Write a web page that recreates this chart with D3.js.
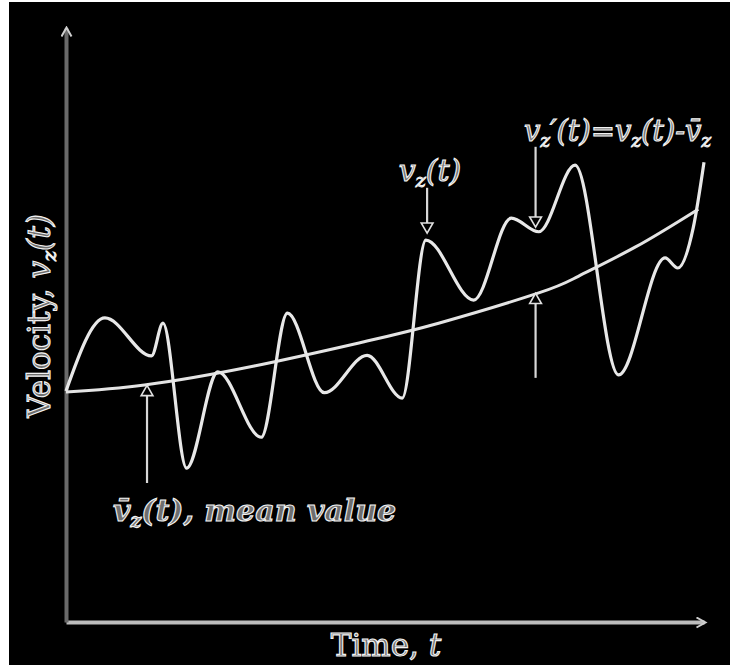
<!DOCTYPE html>
<html>
<head>
<meta charset="utf-8">
<script src="https://cdn.jsdelivr.net/npm/d3@7"></script>
<style>
  html, body { margin: 0; padding: 0; background: #fff; }
  svg { display: block; }
</style>
</head>
<body>
<svg id="chart" width="730" height="665"></svg>
<script>
// both axes are unitless, 0..100
const timeDomain = [0, 100];
const velocityDomain = [0, 100];

// instantaneous velocity v_z(t) - turning points
const vzTime  = [0, 6.1, 13.4, 15.2, 18.9, 23.8, 30.6, 34.7, 40.5, 47.2, 52.7, 56.4, 63.9, 69.8, 74.1, 79.8, 86.6, 93.9, 95.9, 98.3, 100];
const vzValue = [38.9, 51.2, 44.8, 50.3, 25.9, 42.1, 31.1, 52.0, 38.6, 44.9, 37.7, 64.3, 54.2, 68.0, 65.7, 76.9, 41.6, 61.3, 59.6, 66.3, 77.4];

// slowly rising mean value
const meanTime  = [0, 12.3, 29.5, 46.4, 58.4, 74.1, 80.3, 89.2, 99.1];
const meanValue = [38.7, 39.9, 43.1, 47.1, 50.3, 55.4, 58.2, 63.1, 69.5];

// pointer lines: time, tail value, tip value
const pointerTime = [12.7, 56.6, 73.6, 73.6];
const pointerFrom = [23.4, 73.1, 80.0, 41.1];
const pointerTo   = [39.7, 65.6, 66.6, 55.2];

const svg = d3.select('#chart');
const W = 730, H = 665;

// black picture, thin white strip left/top like the scan
svg.append('rect').attr('x', 9).attr('y', 2).attr('width', W - 9).attr('height', H - 2).attr('fill', '#000');

const x = d3.scaleLinear().domain(timeDomain).range([66, 704]);
const y = d3.scaleLinear().domain(velocityDomain).range([622, 28]);

const defs = svg.append('defs');
defs.append('marker').attr('id', 'axisArrow')
  .attr('viewBox', '0 0 12 12').attr('refX', 9).attr('refY', 6)
  .attr('markerWidth', 12).attr('markerHeight', 12)
  .attr('markerUnits', 'userSpaceOnUse').attr('orient', 'auto')
  .append('path').attr('d', 'M1,1L10,6L1,11')
  .attr('fill', 'none').attr('stroke', '#cfcfcf').attr('stroke-width', 2);

// axes (no ticks, just arrows)
const gx = svg.append('g').attr('transform', `translate(0,${y(0)})`)
  .call(d3.axisBottom(x).tickValues([]).tickSizeOuter(0));
gx.select('.domain').attr('stroke', '#bdbdbd').attr('stroke-width', 4).attr('marker-end', 'url(#axisArrow)');

const gy = svg.append('g').attr('transform', `translate(${x(0)},0)`)
  .call(d3.axisLeft(y).tickValues([]).tickSizeOuter(0));
gy.select('.domain').attr('stroke', '#6a6a6a').attr('stroke-width', 4).attr('marker-end', 'url(#axisArrow)');

// curves
const vzData = vzTime.map((t, i) => ({ t, v: vzValue[i] }));
const meanData = meanTime.map((t, i) => ({ t, v: meanValue[i] }));

const wiggle = d3.line().x(d => x(d.t)).y(d => y(d.v)).curve(d3.curveMonotoneX);
const smooth = d3.line().x(d => x(d.t)).y(d => y(d.v)).curve(d3.curveNatural);

svg.append('path').datum(meanData).attr('d', smooth)
  .attr('fill', 'none').attr('stroke', '#e4e4e4').attr('stroke-width', 3);
svg.append('path').datum(vzData).attr('d', wiggle)
  .attr('fill', 'none').attr('stroke', '#e8e8e8').attr('stroke-width', 3.2);

// pointer lines with hollow triangle heads
const pointers = pointerTime.map((t, i) => ({ t, from: pointerFrom[i], to: pointerTo[i] }));
const pg = svg.append('g');
pg.selectAll('line').data(pointers).join('line')
  .attr('x1', d => x(d.t)).attr('x2', d => x(d.t))
  .attr('y1', d => y(d.from))
  .attr('y2', d => y(d.to) + (d.to > d.from ? 8 : -8))
  .attr('stroke', '#d8d8d8').attr('stroke-width', 2.2);
pg.selectAll('path').data(pointers).join('path')
  .attr('d', d3.symbol(d3.symbolTriangle, 60))
  .attr('transform', d => {
    const up = d.to > d.from;
    return `translate(${x(d.t)},${y(d.to) + (up ? 6 : -6)}) rotate(${up ? 0 : 180})`;
  })
  .attr('fill', '#000').attr('stroke', '#e0e0e0').attr('stroke-width', 1.6);

// text
const font = '"DejaVu Serif", "Liberation Serif", serif';
function label(xp, yp, size, anchor) {
  return svg.append('text').attr('x', xp).attr('y', yp)
    .attr('font-family', font).attr('font-size', size)
    .attr('text-anchor', anchor)
    .attr('fill', '#6e6e6e').attr('stroke', '#f2f2f2').attr('stroke-width', 1.1);
}

// mean value label
const tm = label(113, 521, 30, 'start').attr('font-style', 'italic').attr('font-weight', 'bold');
tm.append('tspan').text('v\u0304');
tm.append('tspan').attr('font-size', 19).attr('dy', 6).text('z');
tm.append('tspan').attr('dy', -6).text('(t), mean value');

// v_z(t) label
const tv = label(430, 181, 30, 'middle').attr('font-style', 'italic');
tv.append('tspan').text('v');
tv.append('tspan').attr('font-size', 19).attr('dy', 6).text('z');
tv.append('tspan').attr('dy', -6).text('(t)');

// fluctuation label, squeezed up against the right edge
const tf = label(524, 141, 29, 'start').attr('font-style', 'italic');
tf.append('tspan').text('v');
tf.append('tspan').attr('font-size', 18).attr('dy', 6).text('z');
tf.append('tspan').attr('dy', -6).text('\u2032(t)=v');
tf.append('tspan').attr('font-size', 18).attr('dy', 6).text('z');
tf.append('tspan').attr('dy', -6).text('(t)-v\u0304');
tf.append('tspan').attr('font-size', 18).attr('dy', 6).text('z');

// axis titles
const tx = label(386, 656, 31, 'middle');
tx.append('tspan').text('Time, ');
tx.append('tspan').attr('font-style', 'italic').text('t');

const ty = label(0, 0, 31, 'middle').attr('transform', 'translate(50,316) rotate(-90)');
ty.append('tspan').text('Velocity, ');
ty.append('tspan').attr('font-style', 'italic').text('v');
ty.append('tspan').attr('font-style', 'italic').attr('font-size', 19).attr('dy', 6).text('z');
ty.append('tspan').attr('font-style', 'italic').attr('dy', -6).text('(t)');
</script>
</body>
</html>
